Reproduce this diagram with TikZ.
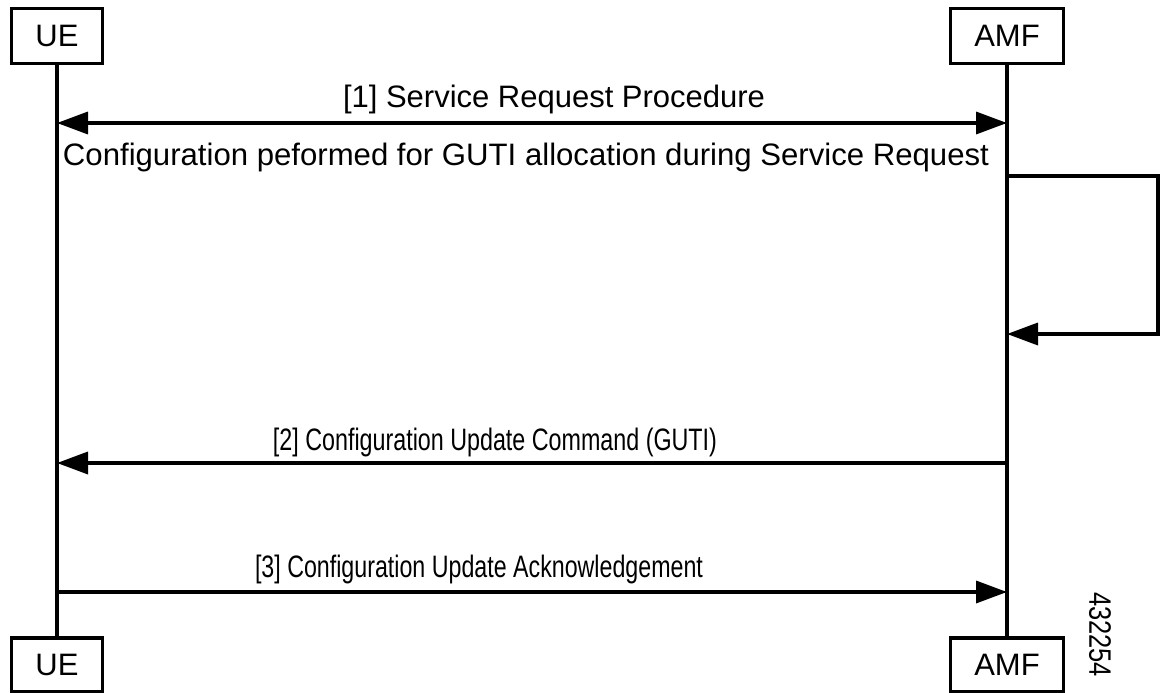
\documentclass[tikz,border=0pt]{standalone}
\usepackage{fontspec}
\setmainfont{Liberation Sans}
\usetikzlibrary{arrows.meta}
\begin{document}
\begin{tikzpicture}[x=1pt,y=-1pt,line width=3.5pt,
  actor/.style={draw,line width=3.5pt,inner sep=0pt,minimum height=55pt,font=\fontsize{31}{37}\selectfont},
  msg/.style={-{Triangle[length=31pt,width=22pt]}},
  dmsg/.style={{Triangle[length=31pt,width=22pt]}-{Triangle[length=31pt,width=22pt]}},
  lbl/.style={inner sep=0pt,anchor=base,font=\fontsize{31}{37}\selectfont}]
\useasboundingbox (0,0) rectangle (1163,693);
% actors
\node[actor,minimum width=91pt] (ueT) at (57,36) {UE};
\node[actor,minimum width=113pt] (amfT) at (1007,36) {AMF};
\node[actor,minimum width=91pt,minimum height=54pt] (ueB) at (57,665) {UE};
\node[actor,minimum width=113pt,minimum height=54pt] (amfB) at (1007,665) {AMF};
% lifelines
\draw (ueT.south) -- (ueB.north);
\draw (amfT.south) -- (amfB.north);
% message anchor points
\coordinate (u1) at (57,123);
\coordinate (a1) at (1007,123);
\coordinate (s1) at (1007,176);
\coordinate (s2) at (1007,334);
\coordinate (u2) at (57,463);
\coordinate (a2) at (1007,463);
\coordinate (u3) at (57,592);
\coordinate (a3) at (1007,592);
% messages
\draw[dmsg] (u1) -- (a1);
\node[lbl] (l1) at (554,107) {\resizebox{422pt}{\height}{[1] Service Request Procedure}};
\node[lbl] (l1b) at (526,165) {\resizebox{926pt}{\height}{Configuration peformed for GUTI allocation during Service Request}};
\draw[msg] (s1) -- ++(151,0) |- (s2);
\draw[msg] (a2) -- (u2);
\node[lbl] (l2) at (495,450) {\resizebox{444pt}{\height}{[2] Configuration Update Command (GUTI)}};
\draw[msg] (u3) -- (a3);
\node[lbl] (l3) at (479,577) {\resizebox{448pt}{\height}{[3] Configuration Update Acknowledgement}};
\node[inner sep=0pt,rotate=-90,font=\fontsize{31}{37}\selectfont] (num) at (1100,634.5) {\resizebox{85pt}{\height}{432254}};
\end{tikzpicture}
\end{document}
